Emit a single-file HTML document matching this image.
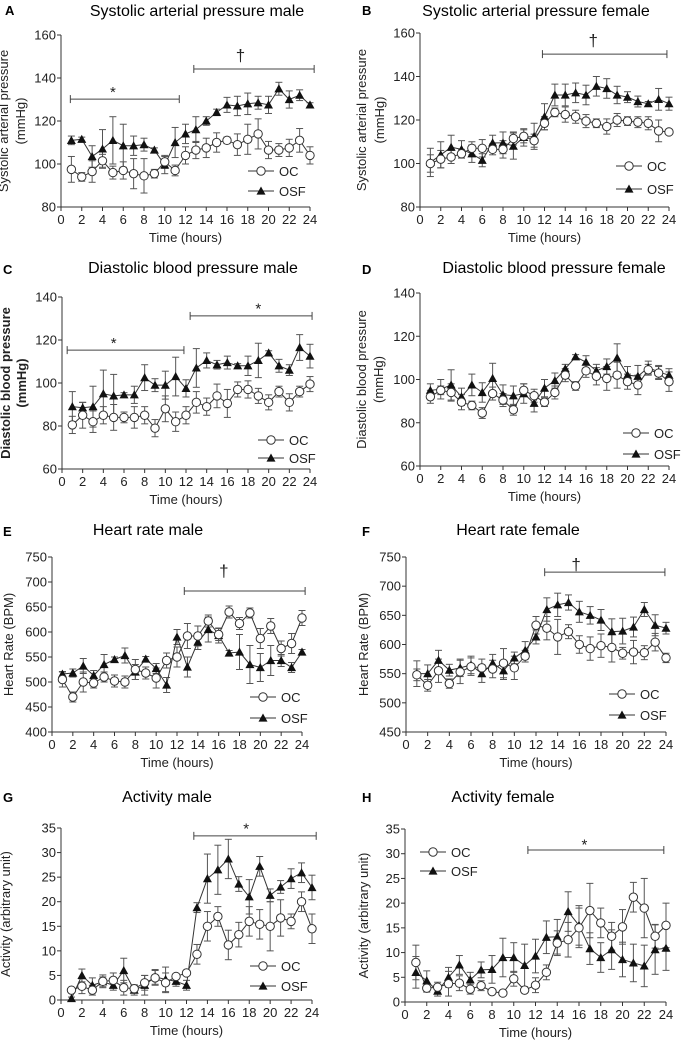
<!DOCTYPE html>
<html><head><meta charset="utf-8">
<style>
html,body{margin:0;padding:0;background:#fff;}
svg{display:block;font-family:"Liberation Sans",Arial,sans-serif;}
</style></head>
<body>
<svg id="fig" width="682" height="1042" viewBox="0 0 682 1042" xmlns="http://www.w3.org/2000/svg"></svg>
<script>
const hours = [1,2,3,4,5,6,7,8,9,10,11,12,13,14,15,16,17,18,19,20,21,22,23,24];
const xTicks = [0,2,4,6,8,10,12,14,16,18,20,22,24];

const aOC = [97.5,94,96.5,101.5,96,97,95.5,94.5,95.5,101,97,104,106.5,107.5,110,111,109,111.5,114,106.5,106.5,107.5,111,104];
const aOCerr = [6,2,5,3,3,4,7,8,2,3,2.5,4,4,4.5,4.5,1.5,5,7,7,4,3,4,5.5,4];
const aOSF = [111,111.5,103.5,107,111,108.5,108.5,109,106.5,99.5,110,114,116,120,124,127.5,127,128,128.5,127.5,135,130,132,127.5];
const aOSFerr = [2,1,5,9,11,10,4.5,3,1,4,7,4.5,6,2,1.5,3.5,4.5,5,3,4,3,4,2.5,1];

const bOC = [100,102,103,104.5,107,107,106.5,106.5,111.5,112.5,110.5,118.5,123.5,122.5,121.5,119.5,118.5,117,120,119.5,119,118.5,115,114.5];
const bOCerr = [4,4,3,2,3,4,2.5,4,3,3,3,3,2,3.5,3,3,2,3.5,3,2,2.5,3,5,1];
const bOSF = [100.5,104,107.5,106.5,104.5,101.5,109.5,109.5,108,112,112.5,121.5,131.5,131.5,132.5,131.5,135.5,134.5,131.5,130.5,128.5,127.5,129.5,127.5];
const bOSFerr = [6.5,6,5.5,4,4,3,3.5,5,6,4,6,6,5,5,4.5,4.5,4.5,4.5,4,2.5,2.5,1,5,3];

const cOC = [80.5,85,82,85,84,84,84,85,79,88,82,85,91,89,94,90.5,97,97,94,91,96,91,96,99.5];
const cOCerr = [4,6,5,4,6,2.5,5,4,4,6,4.5,4,5,4,5.5,6.5,3.5,4,3.5,3.5,2.5,4,2.5,3.5];
const cOSF = [89,88.5,89,95,94,94.5,94.5,102.5,99,99,103,97.5,107,110.5,108.5,109.5,108,108,110.5,114,108,106,116.5,112.5];
const cOSFerr = [7,2.5,9.5,11,10,1,4,6,3,6.5,9,4,9,3.5,2,3,1,4.5,8,1,3,2.5,6,5.5];

const dOC = [92,95,94,89.5,88,84.5,93.5,90.5,86,95,92.5,89.5,94,102,97,104,101.5,100.5,102,99,97.5,104.5,103,99];
const dOCerr = [3,2,4,3.5,2,2.5,3,3,2.5,3,3,2,3,3,2,3,4,5.5,6,3.5,4.5,2.5,3,4.5];
const dOSF = [95,95.5,97.5,92,97.5,94,100.5,93,92.5,93.5,89,96,99.5,105,110.5,108,104,106,110,102,101.5,105.5,103.5,102];
const dOSFerr = [3,4.5,7,4,5,4.5,7,4.5,4.5,4.5,4,4,3.5,2,1,3,3,3.5,6.5,4,5,3,3,3];

const eOC = [505,470,500,498,510,502,500,525,518,508,543,550,592,592,622,595,640,617,638,587,612,567,577,628];
const eOCerr = [15,10,20,10,10,12,12,20,12,20,15,20,25,20,12,12,12,12,10,20,15,15,20,15];
const eOSF = [516,518,532,513,535,545,553,520,546,527,494,590,530,580,605,593,558,560,535,529,543,543,529,560];
const eOSFerr = [5,8,15,10,20,5,15,15,5,10,15,15,20,15,25,15,5,35,38,28,30,12,10,5];

const fOC = [548,530,555,533,553,562,560,558,568,560,580,633,628,613,622,600,593,598,595,585,587,586,604,577];
const fOCerr = [10,10,20,8,20,15,15,15,25,20,10,15,20,30,12,15,20,20,25,10,20,12,15,8];
const fOSF = [550,550,573,556,560,565,550,568,555,577,590,613,660,668,672,656,650,642,622,623,630,660,633,628];
const fOSFerr = [22,15,17,10,15,15,15,15,15,10,15,12,20,20,13,18,15,18,22,22,17,12,18,10];

const gOC = [2,2.8,2,3.8,4,2.5,2.3,3.5,4.5,3.5,4.8,5.5,9.3,15,17,11.2,13.3,16,15.4,15,16.7,16,20,14.5];
const gOCerr = [0.5,1.5,1,1.3,1.5,1.5,0.8,1.5,1.5,2,0.5,0.5,2,3,2,3,2.5,3,3,5,3.7,1.5,2,3];
const gOSF = [0.3,5,3,3.7,3,6,2,3,4.7,4.2,3.8,3,18.8,24.7,26.5,28.7,23.6,21,27.2,21.3,23,24.7,25.9,22.9];
const gOSFerr = [0.3,1.3,1.5,1,1,2.5,1,2,1.5,2.5,1,1,1,5,5,4,1.5,3.5,2,1.3,1.3,2,2,2.5];

const hOC = [8,2.8,3,3.7,3.8,2.6,3.3,2.1,1.8,4.7,2.4,3.4,6,11.9,12.6,15,18.5,16,13.3,15.2,21.2,19,13.3,15.5];
const hOCerr = [3.5,0.8,1,2.5,1.5,1,1,0.5,0.5,1.5,0.5,1.5,1.5,2.5,3.5,4,5.5,3,2.8,3.5,3,6,2.4,4.5];
const hOSF = [6,4.3,2.2,5,7.5,4.5,6.5,6.6,9,9,7.4,9.3,13.1,13.2,18.3,15.5,10.8,9,10.6,8.6,7.9,7.3,10.6,10.9];
const hOSFerr = [3.2,2,1,2,1.9,1.5,1.6,2.8,3.9,3,4.3,3.4,3.3,3.5,4,4,3.2,3,4,3.5,3.8,4.2,5,4.5];

const ticksBP160 = [80,100,120,140,160];
const ticksBP140 = [60,80,100,120,140];
const ticksHRm = [400,450,500,550,600,650,700,750];
const ticksHRf = [450,500,550,600,650,700,750];
const ticksAct = [0,5,10,15,20,25,30,35];

const bracketsA = [[0.9,11.4,130.2,'*',5,135],[12.8,24.4,144.2,'†',17.3,148]];
const bracketsB = [[11.8,23.8,150.3,'†',16.7,154]];
const bracketsC = [[0.5,11.8,115.3,'*',5,120],[12.4,24.2,131.2,'*',19,136]];
const bracketsD = [];
const bracketsE = [[12.7,24.3,682,'†',16.5,711]];
const bracketsF = [[12.8,23.9,724,'†',15.7,728]];
const bracketsG = [[12.7,24.4,33.4,'*',17.7,35.5]];
const bracketsH = [[11.3,23.8,30.75,'*',16.5,32.5]];

const panels = [
 {id:'a',L:'A',title:'Systolic arterial pressure male',tx:197,ty:16,x0:61,x1:310,yt:35,yb:207,lo:80,hi:160,ticks:ticksBP160,oc:aOC,oce:aOCerr,osf:aOSF,osfe:aOSFerr,br:bracketsA,ylab:['Systolic arterial pressure','(mmHg)'],ylx:[-53,-36],bold:false,lg:[248,171,191],lx:5,ly:15},
 {id:'b',L:'B',title:'Systolic arterial pressure female',tx:536,ty:16,x0:420,x1:669,yt:33,yb:207,lo:80,hi:160,ticks:ticksBP160,oc:bOC,oce:bOCerr,osf:bOSF,osfe:bOSFerr,br:bracketsB,ylab:['Systolic arterial pressure','(mmHg)'],ylx:[-54,-36],bold:false,lg:[616,166,189],lx:362,ly:15},
 {id:'c',L:'C',title:'Diastolic blood pressure male',tx:193,ty:273,x0:62,x1:310,yt:297,yb:469,lo:60,hi:140,ticks:ticksBP140,oc:cOC,oce:cOCerr,osf:cOSF,osfe:cOSFerr,br:bracketsC,ylab:['Diastolic blood pressure','(mmHg)'],ylx:[-52,-36],bold:true,lg:[258,440,458],lx:3,ly:274},
 {id:'d',L:'D',title:'Diastolic blood pressure female',tx:554,ty:273,x0:420,x1:669,yt:293,yb:466,lo:60,hi:140,ticks:ticksBP140,oc:dOC,oce:dOCerr,osf:dOSF,osfe:dOSFerr,br:bracketsD,ylab:['Diastolic blood pressure','(mmHg)'],ylx:[-54,-37],bold:false,lg:[623,433,454],lx:362,ly:274},
 {id:'e',L:'E',title:'Heart rate male',tx:148,ty:535,x0:52,x1:302,yt:557,yb:732,lo:400,hi:750,ticks:ticksHRm,oc:eOC,oce:eOCerr,osf:eOSF,osfe:eOSFerr,br:bracketsE,ylab:['Heart Rate (BPM)'],ylx:[-39],bold:false,lg:[250,697,718],lx:3,ly:536},
 {id:'f',L:'F',title:'Heart rate female',tx:518,ty:535,x0:406,x1:666,yt:557,yb:732,lo:450,hi:750,ticks:ticksHRf,oc:fOC,oce:fOCerr,osf:fOSF,osfe:fOSFerr,br:bracketsF,ylab:['Heart Rate (BPM)'],ylx:[-38],bold:false,lg:[609,694,715],lx:362,ly:536},
 {id:'g',L:'G',title:'Activity male',tx:167,ty:802,x0:61,x1:312,yt:828,yb:1000,lo:0,hi:35,ticks:ticksAct,oc:gOC,oce:gOCerr,osf:gOSF,osfe:gOSFerr,br:bracketsG,ylab:['Activity (arbitrary unit)'],ylx:[-51],bold:false,lg:[250,966,986],lx:3,ly:802},
 {id:'h',L:'H',title:'Activity female',tx:503,ty:802,x0:405,x1:666,yt:829,yb:1002,lo:0,hi:35,ticks:ticksAct,oc:hOC,oce:hOCerr,osf:hOSF,osfe:hOSFerr,br:bracketsH,ylab:['Activity (arbitrary unit)'],ylx:[-37],bold:false,lg:[420,852,871],lx:362,ly:802}
];

const NS='http://www.w3.org/2000/svg';
const svg=document.getElementById('fig');
function mk(tag,attrs,parent,text){
  const e=document.createElementNS(NS,tag);
  for(const k in attrs)e.setAttribute(k,attrs[k]);
  if(text!==undefined)e.textContent=text;
  (parent||svg).appendChild(e);return e;
}
function tri(cx,cy,s){return `${cx},${cy-s} ${cx-s},${cy+s*0.8} ${cx+s},${cy+s*0.8}`;}

panels.forEach(p=>{
  const g=mk('g',{});
  
  
  const X=v=>p.x0+(v/24)*(p.x1-p.x0);
  const Y=v=>p.yb-(v-p.lo)/(p.hi-p.lo)*(p.yb-p.yt);
  const lt=mk('text',{x:p.lx,y:p.ly,'font-size':13,'font-weight':'bold'},g,p.L);
  
  
  const tt=mk('text',{x:p.tx,y:p.ty,'font-size':16,'text-anchor':'middle'},g,p.title);
  
  
  const ya=mk('line',{x1:p.x0,y1:p.yt,x2:p.x0,y2:p.yb,stroke:'#333','stroke-width':1},g);
  
  
  const xa=mk('line',{x1:p.x0,y1:p.yb,x2:p.x1,y2:p.yb,stroke:'#333','stroke-width':1},g);
  
  
  p.ticks.forEach(t=>{
    mk('line',{x1:p.x0-4,x2:p.x0,y1:Y(t),y2:Y(t),stroke:'#333'},g);
    const tl=mk('text',{x:p.x0-5,y:Y(t)+4.5,'font-size':13,'text-anchor':'end',fill:'#222'},g,String(t));
    
    
  });
  xTicks.forEach(t=>{
    mk('line',{x1:X(t),x2:X(t),y1:p.yb,y2:p.yb+4,stroke:'#333'},g);
    const tl=mk('text',{x:X(t),y:p.yb+17,'font-size':13,'text-anchor':'middle',fill:'#222'},g,String(t));
    
    
  });
  const xt=mk('text',{x:(p.x0+p.x1)/2,y:p.yb+35,'font-size':13,'text-anchor':'middle',fill:'#222'},g,'Time (hours)');
  
  
  const cy=(p.yt+p.yb)/2;
  p.ylab.forEach((s,i)=>{
    const x=p.x0+p.ylx[i];
    const yl=mk('text',{x:x,y:cy,'font-size':13,'font-weight':p.bold?'bold':'normal','text-anchor':'middle',transform:`rotate(-90 ${x} ${cy})`,fill:'#222'},g,s);
    
    
  });
  p.br.forEach(b=>{
    const bg=mk('g',{stroke:'#444','stroke-width':1},g);
    
    
    const y=Y(b[2]);
    mk('line',{x1:X(b[0]),x2:X(b[1]),y1:y,y2:y},bg);
    mk('line',{x1:X(b[0]),x2:X(b[0]),y1:y-4,y2:y+4},bg);
    mk('line',{x1:X(b[1]),x2:X(b[1]),y1:y-4,y2:y+4},bg);
    mk('text',{x:X(b[4]),y:Y(b[5])+(b[3]==='*'?8:0),'font-size':b[3]==='*'?15:17,'text-anchor':'middle',stroke:'none',fill:'#222'},g,b[3]);
  });
  const series=[{v:p.osf,e:p.osfe,k:'osf'},{v:p.oc,e:p.oce,k:'oc'}];
  series.forEach(s=>{
    const sg=mk('g',{},g);
    
    
    s.v.forEach((v,i)=>{
      const x=X(hours[i]);
      mk('line',{x1:x,x2:x,y1:Y(v-s.e[i]),y2:Y(v+s.e[i]),stroke:'#555','stroke-width':1},sg);
      mk('line',{x1:x-3.5,x2:x+3.5,y1:Y(v+s.e[i]),y2:Y(v+s.e[i]),stroke:'#555','stroke-width':1},sg);
      mk('line',{x1:x-3.5,x2:x+3.5,y1:Y(v-s.e[i]),y2:Y(v-s.e[i]),stroke:'#555','stroke-width':1},sg);
    });
    mk('polyline',{points:s.v.map((v,i)=>X(hours[i])+','+Y(v)).join(' '),fill:'none',stroke:'#333','stroke-width':1},sg);
  });
  series.forEach(s=>{
    s.v.forEach((v,i)=>{
      let m;
      if(s.k==='oc') m=mk('circle',{cx:X(hours[i]),cy:Y(v),r:4.2,fill:'#fff',stroke:'#333','stroke-width':1},g);
      else m=mk('polygon',{points:tri(X(hours[i]),Y(v),4.5),fill:'#111'},g);
      
      
    });
  });
  const lg=mk('g',{},g);
  
  
  const lx=p.lg[0];
  mk('line',{x1:lx,x2:lx+26,y1:p.lg[1],y2:p.lg[1],stroke:'#333'},lg);
  mk('circle',{cx:lx+13,cy:p.lg[1],r:4.2,fill:'#fff',stroke:'#333'},lg);
  mk('text',{x:lx+31,y:p.lg[1]+5,'font-size':13,fill:'#222'},lg,'OC');
  mk('line',{x1:lx,x2:lx+26,y1:p.lg[2],y2:p.lg[2],stroke:'#333'},lg);
  mk('polygon',{points:tri(lx+13,p.lg[2],4.5),fill:'#111'},lg);
  mk('text',{x:lx+31,y:p.lg[2]+5,'font-size':13,fill:'#222'},lg,'OSF');
});
</script>
</body></html>
